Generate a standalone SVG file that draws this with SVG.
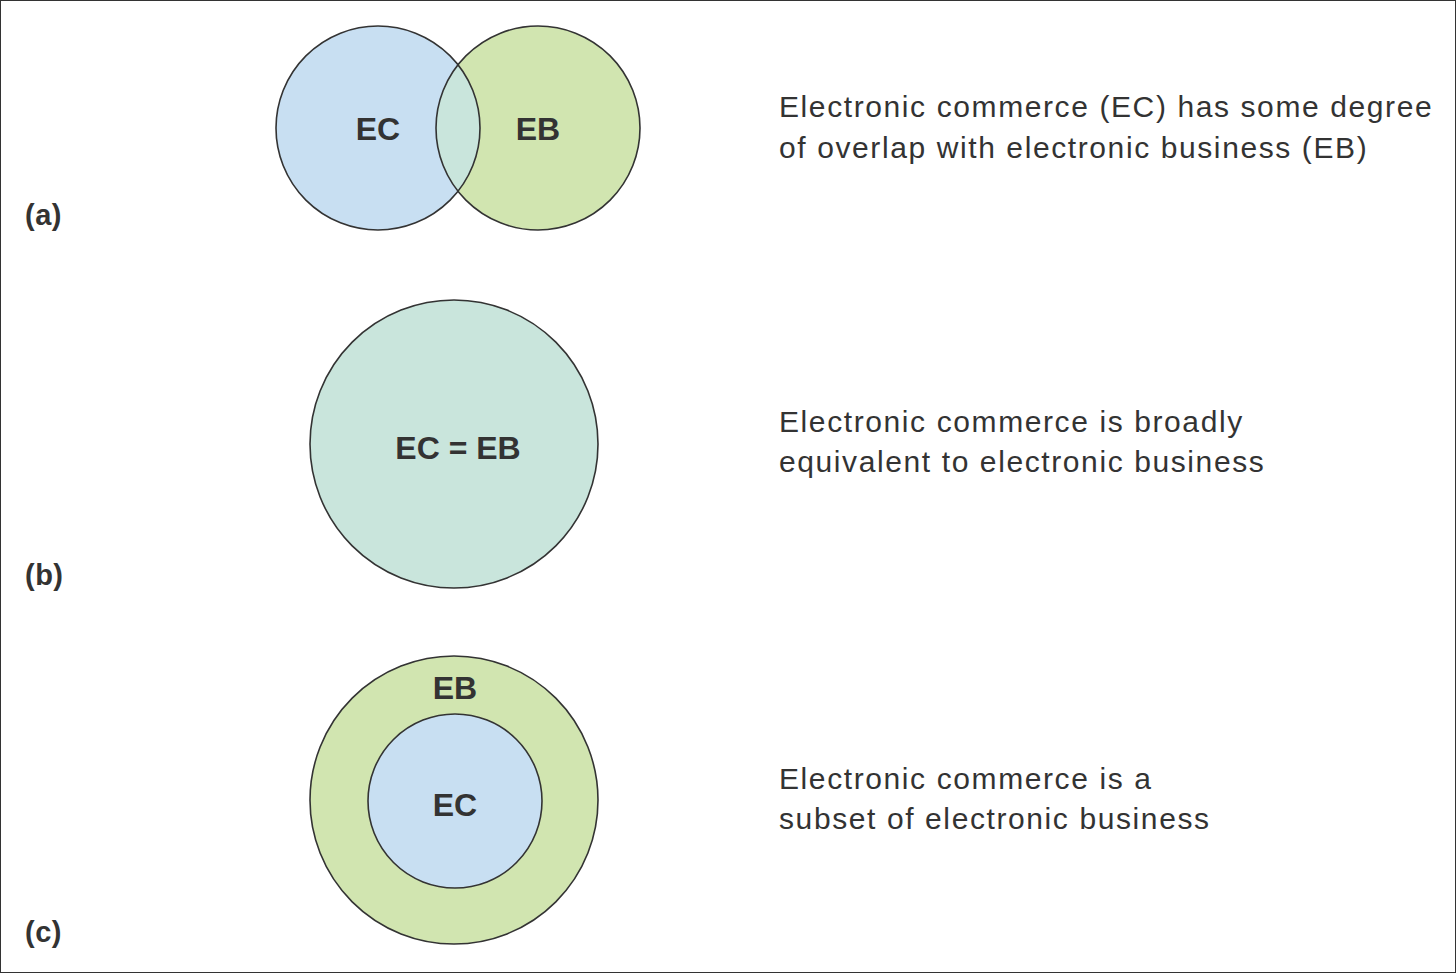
<svg xmlns="http://www.w3.org/2000/svg" width="1456" height="973" viewBox="0 0 1456 973">
<style>
.c{stroke:#333;stroke-width:1.6}
.blue{fill:#c8dff2}
.green{fill:#d1e5b0}
.mix{fill:#c9e5dc}
.lbl{font-family:"Liberation Sans",Arial,sans-serif;font-weight:bold;font-size:32px;fill:#333;text-anchor:middle}
.tag{font-family:"Liberation Sans",Arial,sans-serif;font-weight:bold;font-size:29px;fill:#333;letter-spacing:0.5px}
.desc{font-family:"Liberation Sans",Arial,sans-serif;font-size:30px;fill:#333;letter-spacing:1.6px}
</style>
<defs>
<clipPath id="clipL"><circle cx="378" cy="128" r="102"/></clipPath>
</defs>
<rect x="0.5" y="0.5" width="1455" height="972" fill="#fff" stroke="#333" stroke-width="1"/>
<g id="panel-a">
<circle class="blue" cx="378" cy="128" r="102"/>
<circle class="green" cx="538" cy="128" r="102"/>
<circle class="mix" cx="538" cy="128" r="102" clip-path="url(#clipL)"/>
<circle cx="378" cy="128" r="102" fill="none" class="c"/>
<circle cx="538" cy="128" r="102" fill="none" class="c"/>
<text class="lbl" x="378" y="140">EC</text>
<text class="lbl" x="538" y="140">EB</text>
<text class="tag" x="25" y="225">(a)</text>
<text class="desc" x="779" y="117">Electronic commerce (EC) has some degree</text>
<text class="desc" x="779" y="158">of overlap with electronic business (EB)</text>
</g>
<g id="panel-b">
<circle class="mix c" cx="454" cy="444" r="144"/>
<text class="lbl" x="458" y="459">EC = EB</text>
<text class="tag" x="25" y="585">(b)</text>
<text class="desc" x="779" y="432">Electronic commerce is broadly</text>
<text class="desc" x="779" y="472">equivalent to electronic business</text>
</g>
<g id="panel-c">
<circle class="green c" cx="454" cy="800" r="144"/>
<circle class="blue c" cx="455" cy="801" r="87"/>
<text class="lbl" x="455" y="699">EB</text>
<text class="lbl" x="455" y="816">EC</text>
<text class="tag" x="25" y="942">(c)</text>
<text class="desc" x="779" y="789">Electronic commerce is a</text>
<text class="desc" x="779" y="829">subset of electronic business</text>
</g>
<g id="connectors"/>
</svg>
